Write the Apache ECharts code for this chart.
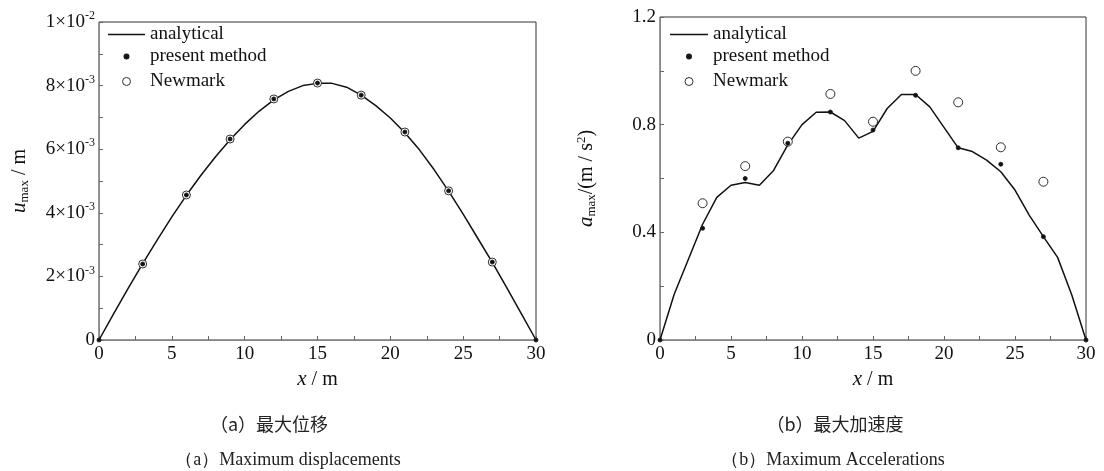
<!DOCTYPE html>
<html>
<head>
<meta charset="utf-8">
<script src="https://cdn.jsdelivr.net/npm/echarts@6/dist/echarts.min.js"></script>
<style>
  html, body { margin: 0; background: #fff; }
  #chart { width: 1104px; height: 471px; }
</style>
</head>
<body>
<div id="chart"></div>
<script>
  // x positions (m)
  const xLine = [0,1,2,3,4,5,6,7,8,9,10,11,12,13,14,15,16,17,18,19,20,21,22,23,24,25,26,27,28,29,30];
  const xNodes = [0,3,6,9,12,15,18,21,24,27,30];
  const xNewmark = [3,6,9,12,15,18,21,24,27];

  // (a) max displacement, m
  const uAnalytical = [0,0.00082,0.00162,0.00240,0.00315,0.00387,0.00455,0.00518,0.00576,0.00630,0.00678,0.00720,0.00755,0.00782,0.00800,0.00807,0.00807,0.00795,0.00770,0.00737,0.00698,0.00652,0.00598,0.00536,0.00468,0.00396,0.00320,0.00244,0.00164,0.00082,0];
  const uPresent = [0,0.00239,0.00456,0.00632,0.00758,0.00808,0.00770,0.00654,0.00469,0.00245,0];
  const uNewmark = [0.00239,0.00456,0.00632,0.00758,0.00808,0.00770,0.00654,0.00469,0.00245];

  // (b) max acceleration, m/s2
  const aAnalytical = [0,0.17,0.30,0.43,0.53,0.575,0.585,0.575,0.63,0.725,0.80,0.846,0.847,0.815,0.75,0.775,0.86,0.912,0.912,0.866,0.79,0.714,0.70,0.668,0.625,0.557,0.464,0.384,0.307,0.167,0];
  const aPresent = [0,0.415,0.60,0.731,0.847,0.78,0.909,0.714,0.653,0.384,0];
  const aNewmark = [0.508,0.646,0.737,0.914,0.811,1.0,0.883,0.716,0.588];

  const pairs = (xs, ys) => xs.map((x, i) => [x, ys[i]]);

  const serif = 'Liberation Serif';
  const cjk = 'Noto Sans CJK SC';
  const ink = '#111';

  const chart = echarts.init(document.getElementById('chart'));

  const baseX = {
    type: 'value',
    min: 0, max: 30, interval: 5,
    nameLocation: 'middle',
    nameGap: 28,
    axisLine: { lineStyle: { color: '#888', width: 1 } },
    axisTick: { inside: true, length: 4, lineStyle: { color: '#666' } },
    minorTick: { show: true, splitNumber: 2, length: 4, lineStyle: { color: '#666' } },
    splitLine: { show: false },
    axisLabel: { fontFamily: serif, fontSize: 19, color: ink, margin: 5 }
  };

  const nameRich = {
    i: { fontFamily: serif, fontStyle: 'italic', fontSize: 21, color: ink },
    n: { fontFamily: serif, fontSize: 20, color: ink },
    sub: { fontFamily: serif, fontSize: 13, color: ink, verticalAlign: 'bottom', padding: [10, 0, 0, 0] },
    sup: { fontFamily: serif, fontSize: 13, color: ink, verticalAlign: 'top', padding: [0, 0, 10, 0] }
  };

  const expLabel = v => {
    if (v === 0) return '0';
    const [m, e] = v.toExponential(0).split('e');
    return '{m|' + m + '×10}{s|' + e.replace('+', '') + '}';
  };

  const legendText = { fontFamily: serif, fontSize: 19, color: ink };
  const thinRing = { color: '#fff', borderColor: '#1a1a1a', borderWidth: 0.9 };

  // the point series are drawn as line series with hidden lines so the legend centres their symbols
  const pointSeries = (name, fill, size, data, axis, z) => ({
    name: name, type: 'line', xAxisIndex: axis, yAxisIndex: axis,
    symbol: 'circle', symbolSize: size, showSymbol: true,
    lineStyle: { opacity: 0, width: 0 },
    itemStyle: { color: fill, borderColor: '#1a1a1a', borderWidth: 0.9 },
    data: data, z: z
  });

  const captionCn = { fontFamily: cjk, fontSize: 18, fontWeight: 'normal', color: '#222' };
  const captionEn = { fontFamily: serif, fontSize: 18, fontWeight: 'normal', color: '#222' };

  chart.setOption({
    animation: false,
    grid: [
      { left: 99, top: 22, width: 437, height: 318, show: true, borderColor: '#333', borderWidth: 1 },
      { left: 660, top: 17, width: 426, height: 323, show: true, borderColor: '#333', borderWidth: 1 }
    ],
    title: [
      { text: '（a）最大位移', left: 264, top: 410, textAlign: 'center', textStyle: captionCn },
      { text: '（a）Maximum displacements', left: 283, top: 446, textAlign: 'center', textStyle: captionEn },
      { text: '（b）最大加速度', left: 830, top: 410, textAlign: 'center', textStyle: captionCn },
      { text: '（b）Maximum Accelerations', left: 828, top: 446, textAlign: 'center', textStyle: captionEn }
    ],
    legend: [
      { data: [{ name: 'analytical', icon: 'rect' }], left: 108, top: 25, padding: 0, itemWidth: 37, itemHeight: 1.5, textStyle: legendText },
      { data: ['present method'], left: 108, top: 47, padding: 0, itemWidth: 37, itemHeight: 5, textStyle: legendText },
      { data: [{ name: 'Newmark', itemStyle: thinRing }], left: 108, top: 72, padding: 0, itemWidth: 37, itemHeight: 10, textStyle: legendText },
      { data: [{ name: 'analytical', icon: 'rect' }], left: 670, top: 25, padding: 0, itemWidth: 38, itemHeight: 1.5, textStyle: legendText },
      { data: ['present method'], left: 670, top: 47, padding: 0, itemWidth: 38, itemHeight: 5, textStyle: legendText },
      { data: [{ name: 'Newmark', itemStyle: thinRing }], left: 670, top: 72, padding: 0, itemWidth: 38, itemHeight: 10, textStyle: legendText }
    ],
    xAxis: [
      Object.assign({}, baseX, { gridIndex: 0, name: '{i|x}{n| / m}', nameTextStyle: { rich: nameRich } }),
      Object.assign({}, baseX, { gridIndex: 1, name: '{i|x}{n| / m}', nameTextStyle: { rich: nameRich } })
    ],
    yAxis: [
      {
        type: 'value', gridIndex: 0,
        min: 0, max: 0.01, interval: 0.002,
        name: '{i|u}{sub|max}{n| / m}',
        nameLocation: 'middle', nameGap: 68,
        nameTextStyle: { rich: nameRich },
        axisLine: { show: true, lineStyle: { color: '#888', width: 1 } },
        axisTick: { show: true, inside: true, length: 4, lineStyle: { color: '#666' } },
        minorTick: { show: true, splitNumber: 2, length: 4, lineStyle: { color: '#666' } },
        splitLine: { show: false },
        axisLabel: {
          margin: 4,
          formatter: expLabel,
          fontFamily: serif, fontSize: 19, color: ink,
          rich: {
            m: { fontFamily: serif, fontSize: 19, color: ink },
            s: { fontFamily: serif, fontSize: 12, color: ink, verticalAlign: 'top', padding: [0, 0, 12, 0] }
          }
        }
      },
      {
        type: 'value', gridIndex: 1,
        min: 0, max: 1.2, interval: 0.4,
        name: '{i|a}{sub|max}{n|/(m / s}{sup|2}{n|)}',
        nameLocation: 'middle', nameGap: 62,
        nameTextStyle: { rich: nameRich },
        axisLine: { show: true, lineStyle: { color: '#888', width: 1 } },
        axisTick: { show: true, inside: true, length: 4, lineStyle: { color: '#666' } },
        minorTick: { show: true, splitNumber: 2, length: 4, lineStyle: { color: '#666' } },
        splitLine: { show: false },
        axisLabel: {
          margin: 4,
          formatter: v => (v === 0 ? '0' : v.toFixed(1)),
          fontFamily: serif, fontSize: 19, color: ink
        }
      }
    ],
    series: [
      {
        name: 'analytical', type: 'line', xAxisIndex: 0, yAxisIndex: 0,
        smooth: false, symbol: 'none',
        lineStyle: { color: '#111', width: 1.5 },
        itemStyle: { color: '#111' },
        data: pairs(xLine, uAnalytical), z: 2
      },
      pointSeries('Newmark', '#fff', 8, pairs(xNewmark, uNewmark), 0, 3),
      pointSeries('present method', '#111', 4, pairs(xNodes, uPresent), 0, 4),
      {
        name: 'analytical', type: 'line', xAxisIndex: 1, yAxisIndex: 1,
        smooth: false, symbol: 'none',
        lineStyle: { color: '#111', width: 1.5 },
        itemStyle: { color: '#111' },
        data: pairs(xLine, aAnalytical), z: 2
      },
      pointSeries('Newmark', '#fff', 9, pairs(xNewmark, aNewmark), 1, 3),
      pointSeries('present method', '#111', 4, pairs(xNodes, aPresent), 1, 4)
    ]
  });
</script>
</body>
</html>
